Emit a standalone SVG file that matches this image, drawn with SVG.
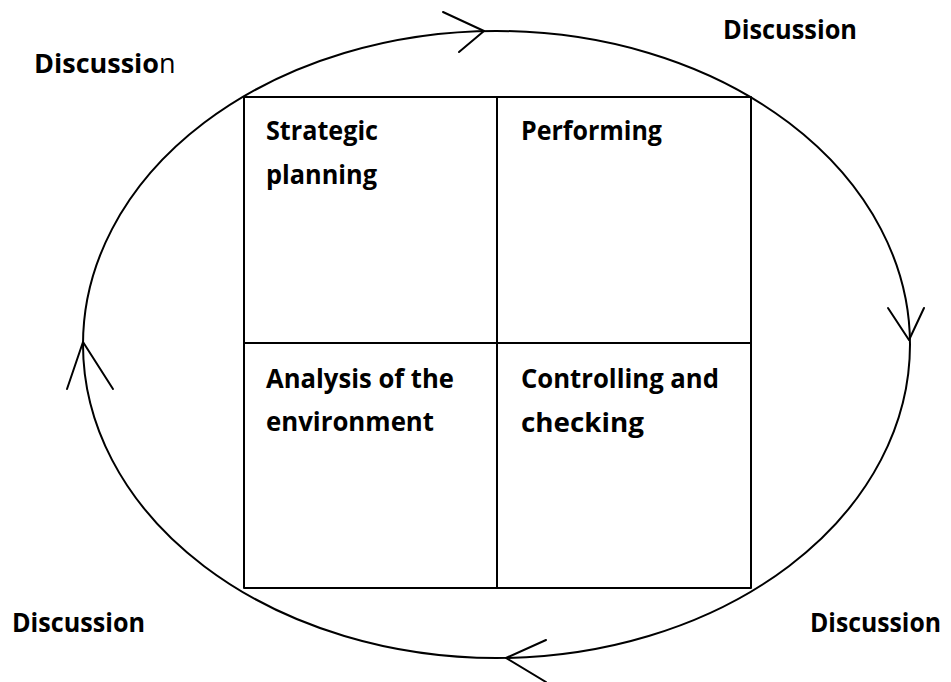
<svg xmlns="http://www.w3.org/2000/svg" width="951" height="682" viewBox="0 0 951 682">
<style>
.ln{fill:none;stroke:#000;stroke-width:2;stroke-linecap:round;stroke-linejoin:round}
.t{font-family:"Open Sans","Liberation Sans",sans-serif;font-size:27px;font-weight:bold;fill:#000}
.r{font-weight:normal}
</style>
<rect width="951" height="682" fill="#fff"/>
<g id="connectors">
<ellipse class="ln" cx="496.5" cy="344.5" rx="413.5" ry="313.5"/>
<polyline class="ln" points="443,12 484,31 459,52"/>
<polyline class="ln" points="888,308 909,340 924,308"/>
<polyline class="ln" points="546,640 506,658 546,682"/>
<polyline class="ln" points="67,389 83,342 113,389"/>
</g>
<g id="cell-strategic">
<rect class="ln" x="244" y="97" width="253" height="246"/>
<text class="t" x="266" y="140" textLength="112" lengthAdjust="spacingAndGlyphs">Strategic</text>
<text class="t" x="266" y="184" textLength="111" lengthAdjust="spacingAndGlyphs">planning</text>
</g>
<g id="cell-performing">
<rect class="ln" x="497" y="97" width="254" height="246"/>
<text class="t" x="521" y="140" textLength="141" lengthAdjust="spacingAndGlyphs">Performing</text>
</g>
<g id="cell-analysis">
<rect class="ln" x="244" y="343" width="253" height="245"/>
<text class="t" x="266" y="388" textLength="188" lengthAdjust="spacingAndGlyphs">Analysis of the</text>
<text class="t" x="266" y="431" textLength="168" lengthAdjust="spacingAndGlyphs">environment</text>
</g>
<g id="cell-controlling">
<rect class="ln" x="497" y="343" width="254" height="245"/>
<text class="t" x="521" y="388" textLength="198" lengthAdjust="spacingAndGlyphs">Controlling and</text>
<text class="t" x="521" y="432" textLength="123" lengthAdjust="spacingAndGlyphs">checking</text>
</g>
<g id="label-tl"><text class="t" x="34" y="73">Discussio<tspan class="r">n</tspan></text></g>
<g id="label-tr"><text class="t" x="723" y="39" textLength="134" lengthAdjust="spacingAndGlyphs">Discussion</text></g>
<g id="label-bl"><text class="t" x="12" y="632" textLength="133" lengthAdjust="spacingAndGlyphs">Discussion</text></g>
<g id="label-br"><text class="t" x="810" y="632" textLength="131" lengthAdjust="spacingAndGlyphs">Discussion</text></g>
</svg>
